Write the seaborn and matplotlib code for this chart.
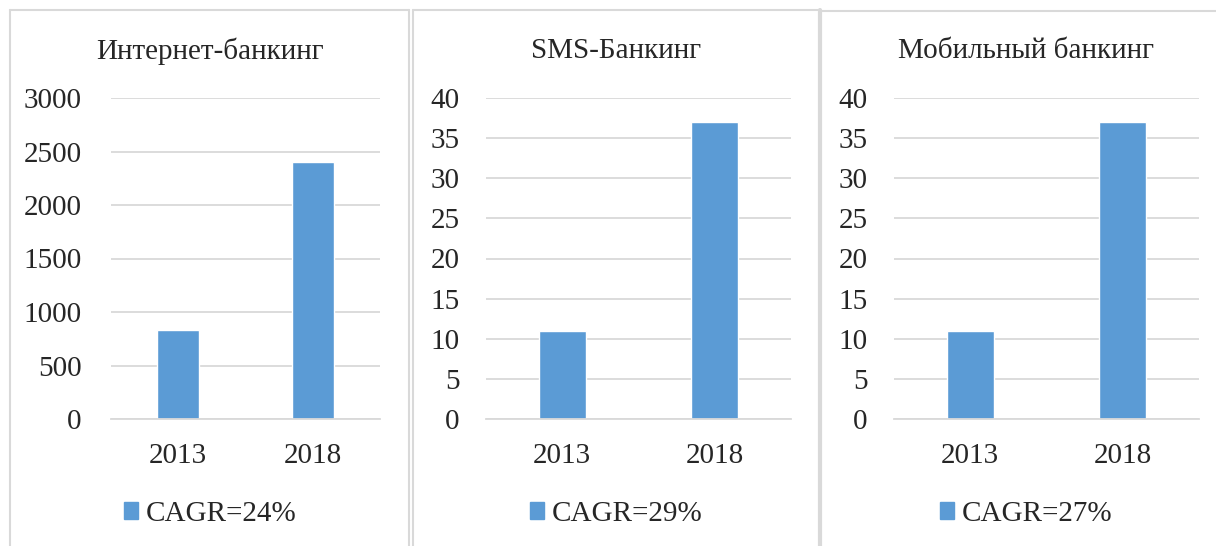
import numpy as np
import pandas as pd
import matplotlib.pyplot as plt
import seaborn as sns
from matplotlib.patches import Patch
from matplotlib.lines import Line2D

years = ['2013', '2018']
titles = ['Интернет-банкинг', 'SMS-Банкинг', 'Мобильный банкинг']
internet = [830, 2400]
sms = [11, 37]
mobile = [11, 37]
cagr = ['CAGR=24%', 'CAGR=29%', 'CAGR=27%']
ymax = [3000, 40, 40]
ystep = [500, 5, 5]

sns.set_style('white')
plt.rcParams['font.family'] = ['Liberation Serif', 'DejaVu Serif']

W, H = 1216, 546
fig = plt.figure(figsize=(W / 100, H / 100), dpi=100)
bar_color = '#5b9bd5'
grid_color = '#d9d9d9'
border = '#d9d9d9'

# pixel positions of each plot area: left, right
ax_px = [(111, 380), (486, 791), (894, 1199)]
title_x = [210, 616, 1026]
top_px, bot_px = 98, 419

for i, vals in enumerate([internet, sms, mobile]):
    l, r = ax_px[i]
    ax = fig.add_axes([l / W, (H - bot_px) / H, (r - l) / W, (bot_px - top_px) / H])
    df = pd.DataFrame({'year': years, 'value': vals})
    sns.barplot(data=df, x='year', y='value', color=bar_color, width=0.31,
                saturation=1, ax=ax)
    ax.set_ylim(0, ymax[i])
    ax.set_yticks(np.arange(0, ymax[i] + 1, ystep[i]))
    ax.set_xlabel('')
    ax.set_ylabel('')
    for s in ['top', 'right', 'left']:
        ax.spines[s].set_visible(False)
    ax.spines['bottom'].set_color(grid_color)
    ax.spines['bottom'].set_linewidth(1.3)
    ax.yaxis.grid(True, color=grid_color, linewidth=1.3)
    ax.set_axisbelow(True)
    ax.tick_params(axis='y', length=0, labelsize=21, pad=21 if i == 0 else 19)
    ax.tick_params(axis='x', length=0, labelsize=21, pad=17)
    fig.text(title_x[i] / W, 1 - 51 / H, titles[i], ha='center', va='center', fontsize=21)
    ax.legend(handles=[Patch(color=bar_color, label=cagr[i])], loc='center',
              bbox_to_anchor=(title_x[i] / W, 32 / H), bbox_transform=fig.transFigure,
              frameon=False, fontsize=21, handlelength=0.5, handleheight=0.5,
              handletextpad=0.25)

# panel borders
def line(x0, y0, x1, y1, lw=1.5):
    fig.add_artist(Line2D([x0 / W, x1 / W], [1 - y0 / H, 1 - y1 / H],
                          color=border, linewidth=lw, transform=fig.transFigure))

line(10, 10, 409, 10)
line(10, 10, 10, H)
line(409, 10, 409, H)
line(413, 10, 820, 10)
line(413, 10, 413, H)
line(820, 10, 820, H, lw=3)
line(820, 11, W, 11)

fig.savefig('out.png', dpi=100)
